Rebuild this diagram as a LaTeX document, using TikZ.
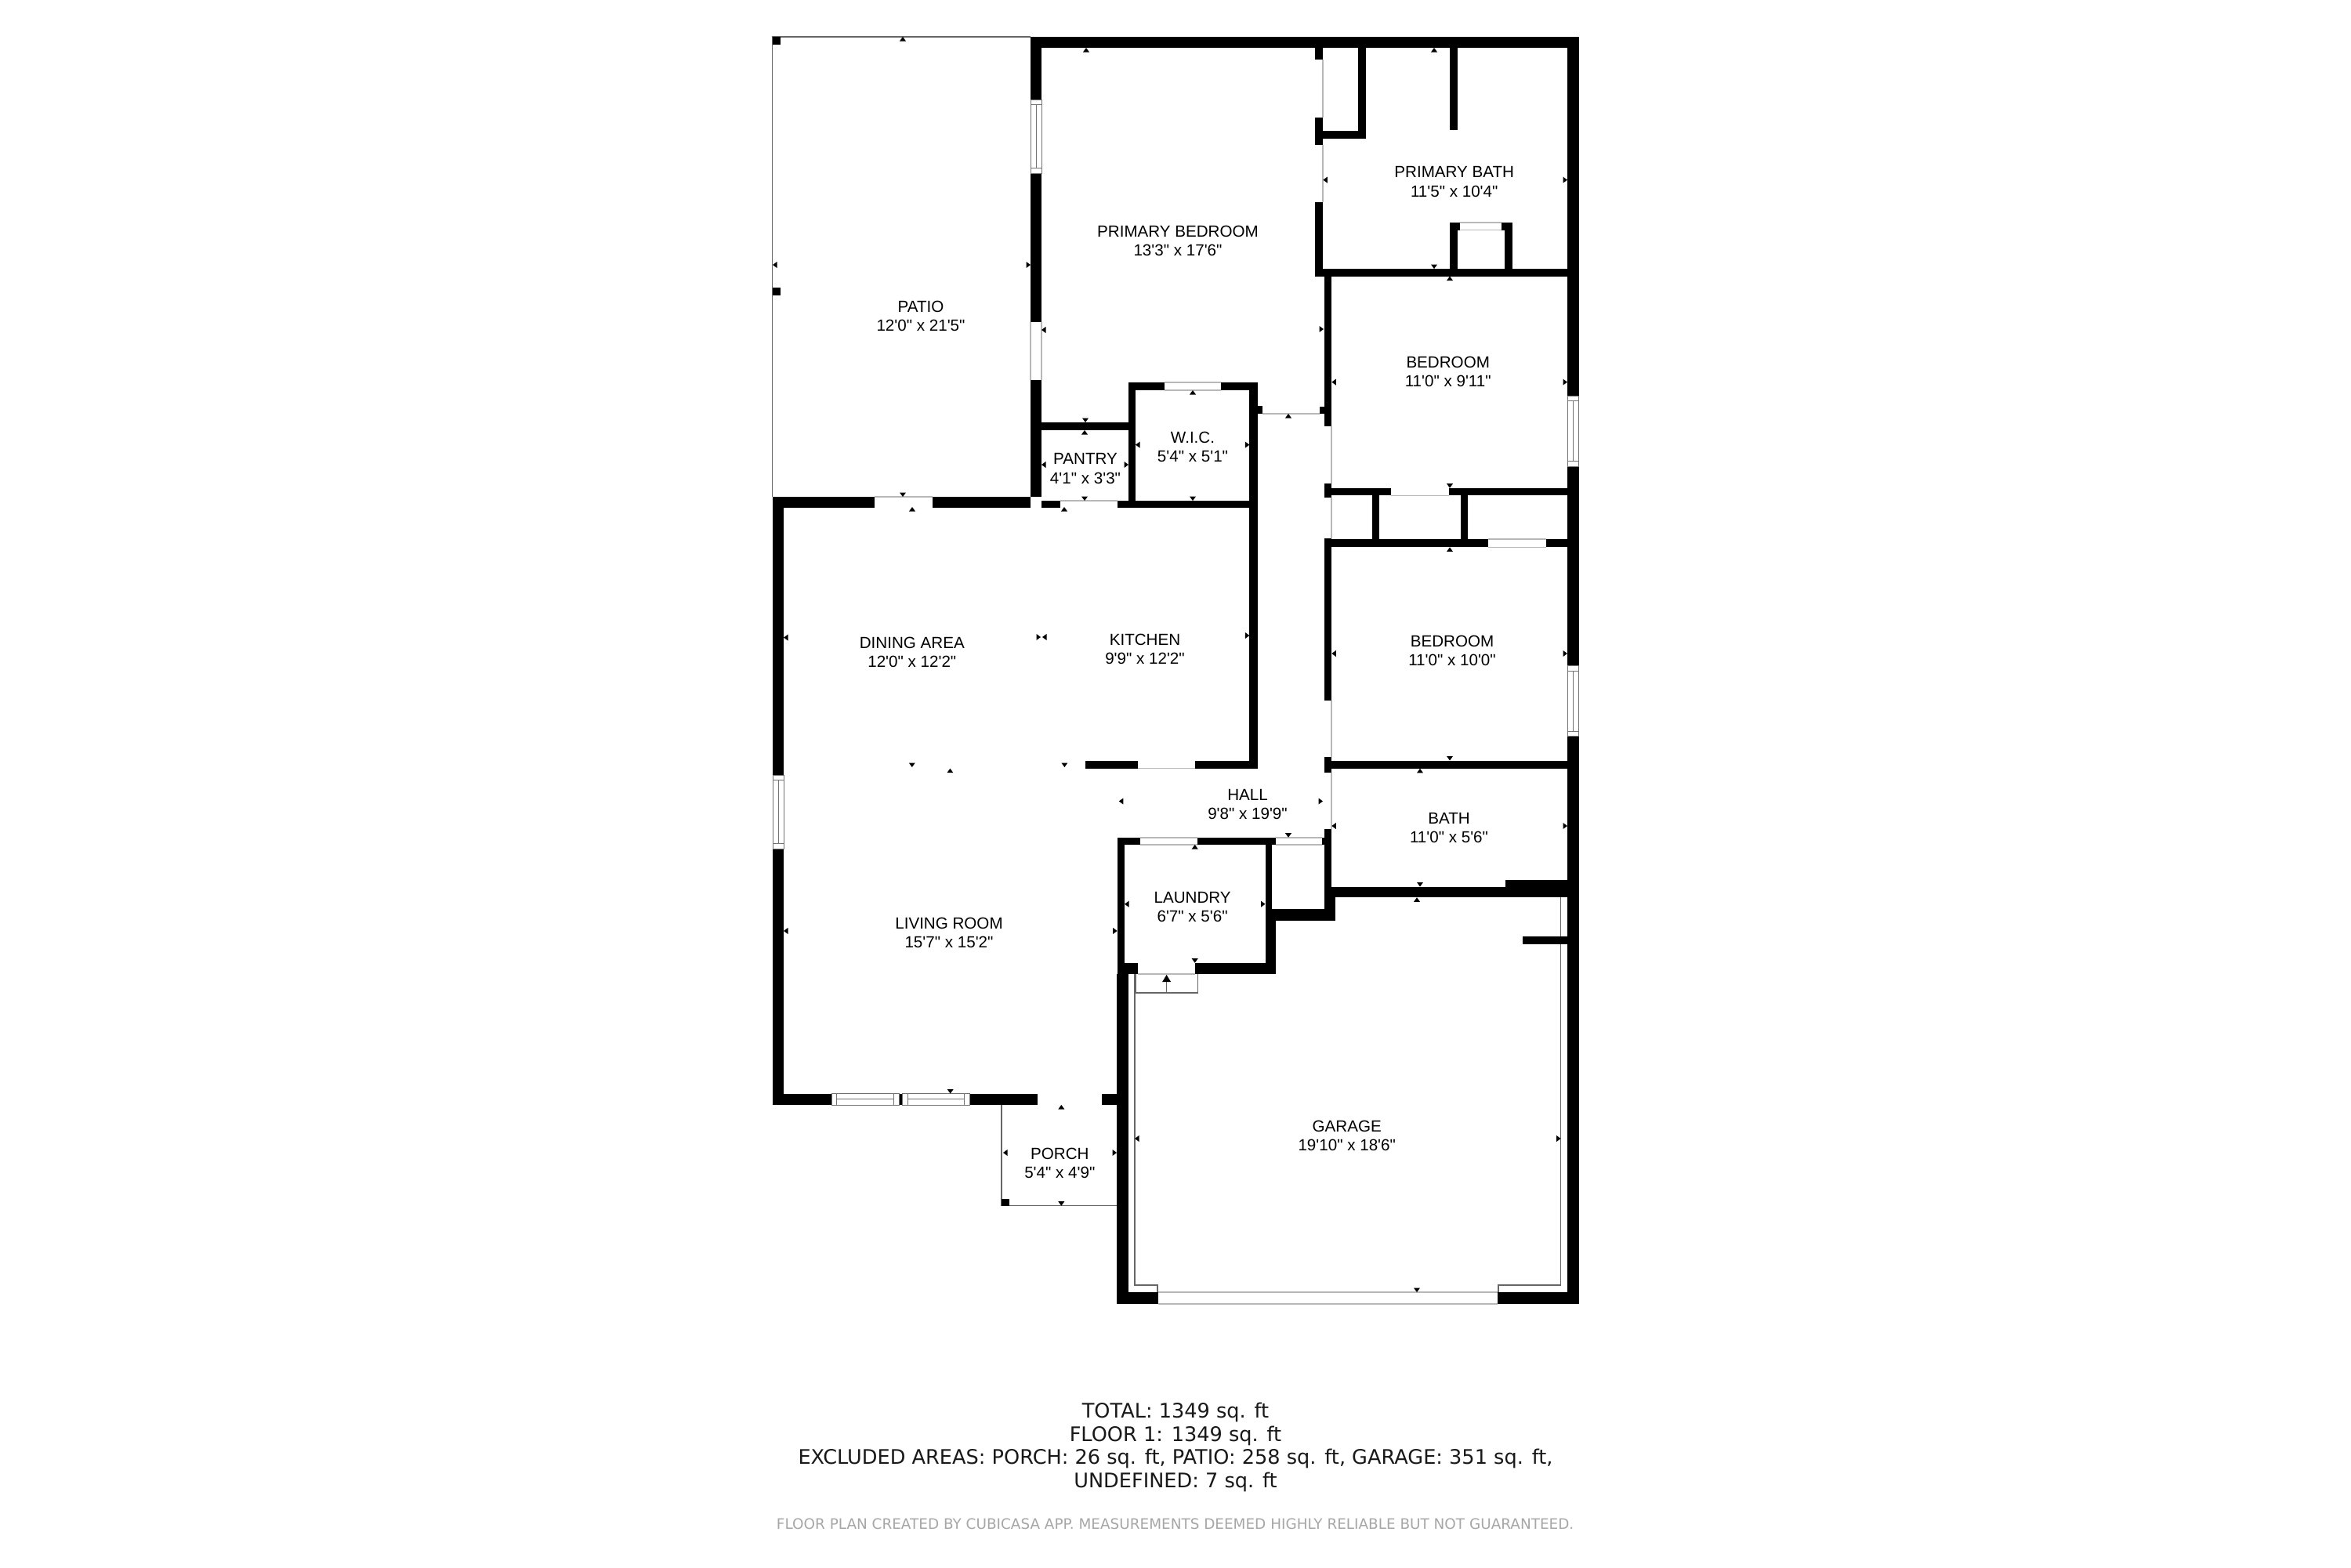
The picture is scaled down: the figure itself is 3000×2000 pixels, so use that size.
\documentclass[tikz,border=0pt]{standalone}
\usepackage{fontspec}
\newfontfamily\roomfont{Liberation Sans}
\newfontfamily\notefont{DejaVu Sans}
\begin{document}
\begin{tikzpicture} [x=1pt, y=-1pt,
    wall/.style={fill=black},
    outline/.style={draw=black!60, line width=1.4pt},
    doorway/.style={draw=black!28, line width=1.2pt},
    windowpane/.style={draw=black!55, line width=1pt, fill=white},
    tick/.style={fill=black},
    roomlabel/.style={align=center, inner sep=0pt, yshift=-1.2pt, font=\roomfont\fontsize{20.6}{24.4}\selectfont},
    arealabel/.style={align=center, inner sep=0pt, font=\notefont\fontsize{25.6}{29.5}\selectfont, text=black!90},
    disclaimer/.style={inner sep=0pt, font=\notefont\fontsize{18.4}{22}\selectfont, text=black!35}]
    \useasboundingbox (0,0) rectangle (3000,2000);
    % thin outlines
    \draw[outline] (1315,47) -- (985.6,47) -- (985.6,634);
    \draw[outline] (1278,1410) -- (1278,1538.7) -- (1425,1538.7);
    \draw[outline] (1448,1243) -- (1448,1640) -- (1476.8,1640) -- (1476.8,1649);
    \draw[outline] (1991.6,1145) -- (1991.6,1640) -- (1912,1640) -- (1912,1649);
    \draw[outline] (1448.8,1243) -- (1448.8,1267) -- (1528.3,1267) -- (1528.3,1243);
    \draw[outline, line width=1.2pt] (1488.6,1267) -- (1488.6,1252);
    \fill[tick] (1488.6,1244) -- ++(-5.5,9) -- ++(11,0) -- cycle;
    % walls
    \foreach \xa/\ya/\xb/\yb in {
        1315/47/2014.6/61, 2000/47/2014.6/505, 2000/595/2014.6/849.5, 2000/939.5/2014.6/1664,
        985.6/47/996/57, 985.6/367/996/376.5,
        1315/61/1329/127, 1315/221/1329/411, 1315/485/1329/634,
        985.6/634/1115.5/647.5, 1190/634/1315/647.5, 1328.5/639/1353/647.5, 1426/639/1604/647.5,
        1329/539/1440/549, 1440/488/1449/647, 1440/488/1485.6/498, 1558/488/1604/498,
        1594.4/488/1604.5/980.7, 1604/518/1611.4/528, 1684/519/1690/528,
        1384.6/970.7/1452/980.7, 1525/970.7/1604.5/980.7,
        986/647/1000/989, 986/1083/1000/1410,
        986/1395.5/1061.3/1410, 1147/1395.5/1151.7/1410, 1237.3/1395.5/1323.7/1410,
        1406/1395.5/1425/1410, 1278/1529.7/1287.5/1538.7,
        1678.3/61/1688.3/76, 1678.3/149.6/1688.3/185, 1678.3/258/1688.3/352.5,
        1688/167/1743.3/176.6, 1733.3/61/1743.3/176.6, 1850/61/1860/166,
        1678.3/343/2000/352.5,
        1850/284/1860/343, 1850/284/1863.3/293.6, 1916/284/1930/293.6, 1920/284/1930/343,
        1690/352.5/1699.3/543.6, 1690/617/1699.3/635.3, 1699/622.7/1775/632.4, 1849.3/622.7/2000/632.4,
        1750.7/632/1760.3/688, 1863.7/632/1873.3/688,
        1690/687/1699.3/893.5, 1699/688/1898.7/698.4, 1972.7/688/2000/698.4,
        1690/965.5/1699.3/985.8, 1699/970.5/2000/980.8,
        1690/1058/1699.3/1175, 1699/1131.5/2000/1145.3, 1921/1123/2000/1145.3,
        1623/1160/1704/1175, 1699/1145/1704/1175, 1687/1069/1690/1078,
        1425.6/1068.7/1455/1078, 1528/1068.7/1628/1078,
        1425.6/1068.7/1435/1243, 1425/1243/1439.8/1664, 1425.6/1228.7/1452/1243,
        1614.5/1078/1623.4/1160, 1614.5/1160/1628/1243, 1524.7/1228.7/1628/1243,
        1943/1195/2000/1205,
        1425/1649/1478.4/1664, 1911/1649/2014.6/1664}
        \fill[wall] (\xa,\ya) rectangle (\xb,\yb);
    % door openings
    \foreach \xa/\ya/\xb/\yb in {
        1115.5/634/1190/634, 1353/639/1426/639, 1485.6/488/1558/488, 1485.6/498/1558/498,
        1452/980.7/1525/980.7, 1688/76/1688/149.6, 1688/185/1688/258,
        1863.3/284/1916/284, 1863.3/293.6/1916/293.6, 1611.4/528/1684/528,
        1699/543.6/1699/617, 1699/635.3/1699/687, 1699/893.5/1699/965.5, 1699/985.8/1699/1058,
        1775/632.4/1849.3/632.4, 1898.7/688/1972.7/688, 1898.7/698.4/1972.7/698.4,
        1455/1069/1528/1069, 1455/1078/1528/1078, 1628/1069/1687/1069, 1628/1078/1687/1078,
        1478.4/1649/1911/1649, 1478.4/1664/1911/1664, 1315/411/1315/485, 1329/411/1329/485,
        1452/1243/1525/1243}
        \draw[doorway] (\xa,\ya) -- (\xb,\yb);
    % windows
    \foreach \xa/\ya/\xb/\yb in {1315/127/1329/221, 2000/505/2014.6/595, 2000/849.5/2014.6/939.5, 986/989/1000/1083} {
        \draw[windowpane] (\xa,\ya) rectangle (\xb,\yb);
        \draw[windowpane] (\xa,\ya+6.5) -- (\xb,\ya+6.5) (\xa,\yb-6.5) -- (\xb,\yb-6.5);
        \draw[windowpane] ({(\xa+\xb)/2},\ya+6.5) -- ({(\xa+\xb)/2},\yb-6.5);
    }
    \foreach \xa/\ya/\xb/\yb in {1061.3/1395.5/1147/1410, 1151.7/1395.5/1237.3/1410} {
        \draw[windowpane] (\xa,\ya) rectangle (\xb,\yb);
        \draw[windowpane] (\xa+6.5,\ya) -- (\xa+6.5,\yb) (\xb-6.5,\ya) -- (\xb-6.5,\yb);
        \draw[windowpane] (\xa+6.5,{(\ya+\yb)/2}) -- (\xb-6.5,{(\ya+\yb)/2});
    }
    % dimension ticks
    \foreach \x/\y in {1152/47, 1386/61, 1384/549, 1522/498, 1164/647, 1358/647, 1644/528,
        1830/61, 1850/352.5, 1850/698.4, 1812/980.8, 1808/1145.3, 1212.4/980.7, 1524.7/1078, 1354.3/1410}
        \fill[tick] (\x,\y) -- ++(-4,5.5) -- ++(8,0) -- cycle;
    \foreach \x/\y in {1152/634, 1385/539, 1384/639, 1522/639, 1830/343, 1850/622.7, 1850/970.5, 1812/1131.5,
        1163.8/979, 1358.4/979, 1644/1068.7, 1524.7/1228.7, 1212.7/1395.5, 1354.3/1538.7, 1808/1649}
        \fill[tick] (\x,\y) -- ++(-4,-5.5) -- ++(8,0) -- cycle;
    \foreach \x/\y in {986/338, 1329/421, 1329/593, 1449/567.6, 1688.3/229.6, 1699.3/487.6, 1699.3/834, 1699.3/1054,
        1000/813.6, 1330/813, 1427.8/1022.5, 1435/1153.7, 1000/1188, 1280/1471, 1448/1453}
        \fill[tick] (\x,\y) -- ++(5.5,-4) -- ++(0,8) -- cycle;
    \foreach \x/\y in {1315/338, 1440/593, 1594.4/567.6, 2000/229.6, 1689/420, 2000/487.6, 2000/834, 1688/1022.5, 2000/1054,
        1328/813, 1594.4/811, 1614.5/1153.7, 1425.6/1188, 1425/1471, 1991.6/1453}
        \fill[tick] (\x,\y) -- ++(-5.5,-4) -- ++(0,8) -- cycle;
    % room names
    \node[roomlabel] (patio) at (1175,402) {PATIO\\12'0" x 21'5"};
    \node[roomlabel] (primarybed) at (1503,306) {PRIMARY BEDROOM\\13'3" x 17'6"};
    \node[roomlabel] (pantry) at (1385,597) {PANTRY\\4'1" x 3'3"};
    \node[roomlabel] (wic) at (1522,569) {W.I.C.\\5'4" x 5'1"};
    \node[roomlabel] (primarybath) at (1855.7,230.7) {PRIMARY BATH\\11'5" x 10'4"};
    \node[roomlabel] (bedroomup) at (1847.7,473) {BEDROOM\\11'0" x 9'11"};
    \node[roomlabel] (bedroomdown) at (1853,829) {BEDROOM\\11'0" x 10'0"};
    \node[roomlabel] (bath) at (1849,1055) {BATH\\11'0" x 5'6"};
    \node[roomlabel] (dining) at (1163.8,831) {DINING AREA\\12'0" x 12'2"};
    \node[roomlabel] (kitchen) at (1461,827) {KITCHEN\\9'9" x 12'2"};
    \node[roomlabel] (hall) at (1592,1025) {HALL\\9'8" x 19'9"};
    \node[roomlabel] (laundry) at (1521.6,1156) {LAUNDRY\\6'7" x 5'6"};
    \node[roomlabel] (living) at (1211,1189) {LIVING ROOM\\15'7" x 15'2"};
    \node[roomlabel] (porch) at (1352.3,1483) {PORCH\\5'4" x 4'9"};
    \node[roomlabel] (garage) at (1718.7,1448) {GARAGE\\19'10" x 18'6"};
    % area summary
    \node[arealabel] (areas) at (1500,1847) {TOTAL: 1349 sq. ft\\FLOOR 1: 1349 sq. ft\\EXCLUDED AREAS: PORCH: 26 sq. ft, PATIO: 258 sq. ft, GARAGE: 351 sq. ft,\\UNDEFINED: 7 sq. ft};
    \node[disclaimer] (note) at (1499.6,1945) {FLOOR PLAN CREATED BY CUBICASA APP. MEASUREMENTS DEEMED HIGHLY RELIABLE BUT NOT GUARANTEED.};
\end{tikzpicture}
\end{document}
